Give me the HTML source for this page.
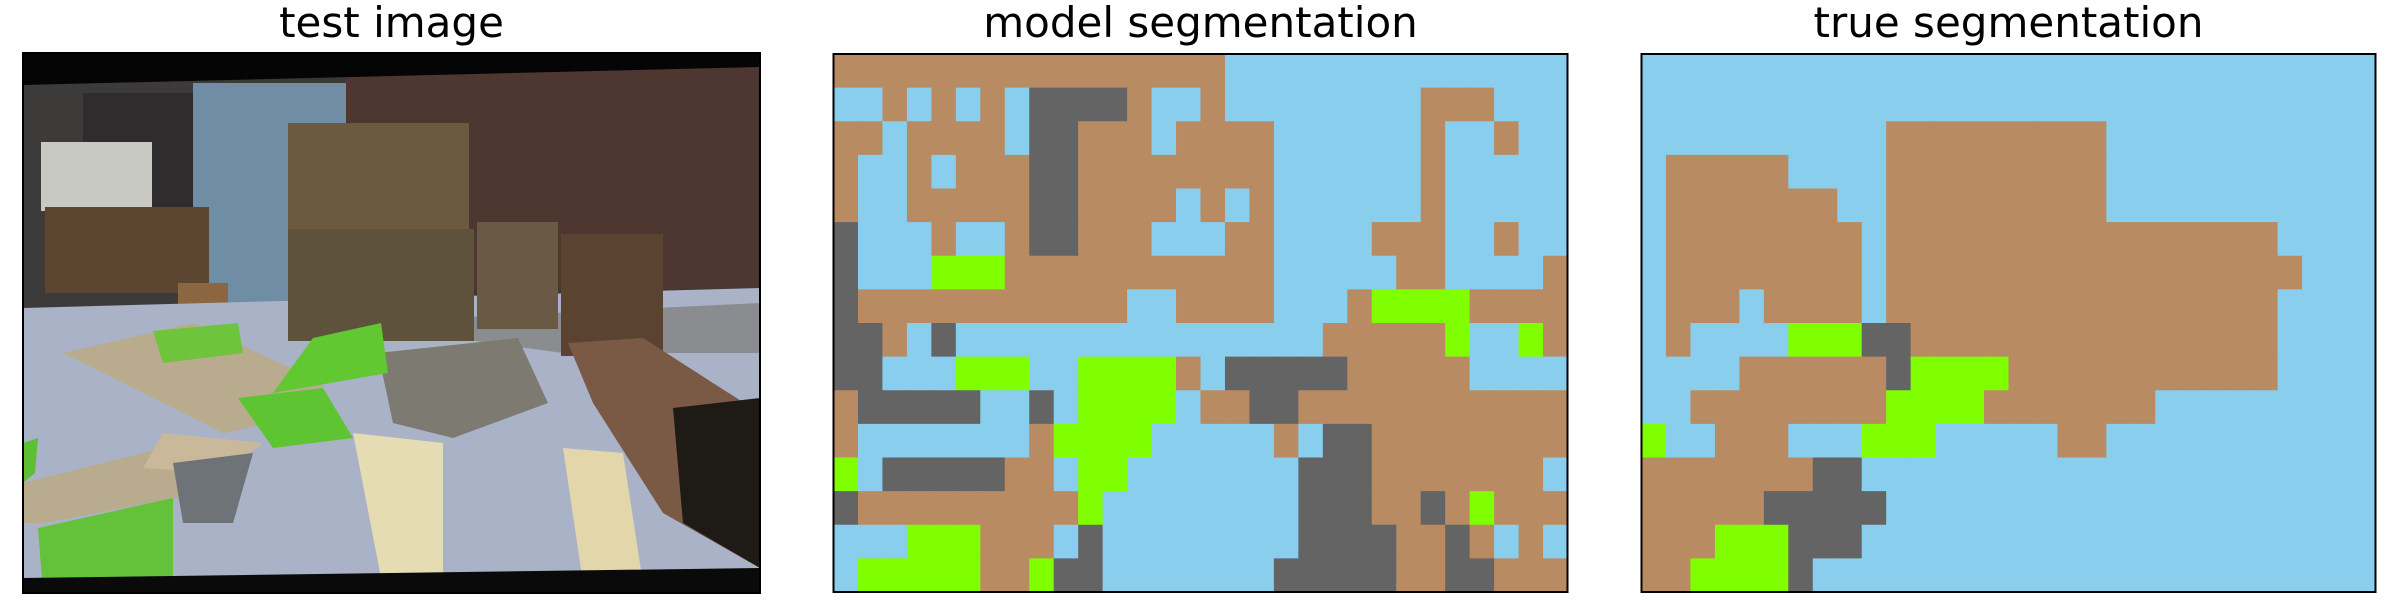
<!DOCTYPE html>
<html><head><meta charset="utf-8"><style>
html,body{margin:0;padding:0;background:#fff;width:2400px;height:600px;overflow:hidden}
svg{display:block}
text{font-family:"DejaVu Sans","Liberation Sans",sans-serif;font-size:42px;fill:#000}
</style></head><body>
<svg id="fig" width="2400" height="600" viewBox="0 0 2400 600" xmlns="http://www.w3.org/2000/svg">
<text x="391.5" y="37" text-anchor="middle">test image</text>
<text x="1200.5" y="37" text-anchor="middle">model segmentation</text>
<text x="2008.5" y="37" text-anchor="middle">true segmentation</text>

<g transform="translate(23,53)">
<rect width="737" height="540" fill="#3a3a34"/>
<polygon points="323,20 737,14 737,235 323,240" fill="#4e3631"/>
<polygon points="0,30 323,28 323,250 0,255" fill="#3d3a3a"/>
<polygon points="60,40 180,40 180,200 60,200" fill="#2e2c2c"/>
<rect x="170" y="30" width="153" height="245" fill="#6f8ea6"/>
<rect x="18" y="89" width="111" height="69" fill="#c8c9c2"/>
<rect x="22" y="154" width="164" height="86" fill="#5c4632"/>
<rect x="155" y="230" width="50" height="40" fill="#8c6640"/>
<polygon points="0,255 737,235 737,525 0,535" fill="#a9b2c6"/>
<polygon points="320,270 737,250 737,300 540,300" fill="#8a8c90"/>
<polygon points="40,300 170,270 300,330 300,360 200,380 100,330" fill="#b8ab8e"/>
<polygon points="0,430 160,390 180,440 20,470 0,470" fill="#b8ab8e"/>
<polygon points="330,380 420,390 420,530 360,535" fill="#e6dcb4"/>
<polygon points="540,395 600,400 620,530 560,530" fill="#e2d6aa"/>
<rect x="265" y="70" width="181" height="113" fill="#6b5a40"/>
<rect x="265" y="176" width="186" height="112" fill="#5e523d"/>
<rect x="454" y="169" width="81" height="107" fill="#6a5a45"/>
<rect x="538" y="181" width="102" height="122" fill="#5a4330"/>
<polygon points="355,300 495,285 525,350 430,385 370,370" fill="#7d7a72"/>
<polygon points="130,278 215,270 220,300 140,310" fill="#6ec43c"/>
<polygon points="290,285 358,270 365,320 250,340" fill="#62c832"/>
<polygon points="215,345 300,335 330,385 250,395" fill="#5fc431"/>
<polygon points="0,390 15,385 12,420 0,430" fill="#5ebf34"/>
<polygon points="15,475 150,445 150,540 20,540" fill="#63c23a"/>
<polygon points="140,380 240,390 200,420 120,415" fill="#c9b99a"/>
<polygon points="150,410 230,400 210,470 160,470" fill="#6e7377"/>
<polygon points="545,290 620,285 690,330 737,360 737,515 640,460 570,350" fill="#7a5a45"/>
<polygon points="650,355 737,345 737,515 660,470" fill="#1e1a16"/>
<polygon points="0,525 737,515 737,540 0,540" fill="#0a0a0a"/>
<polygon points="0,0 737,0 737,14 0,32" fill="#050505"/>
</g>

<g id="model"></g>
<g id="truth"></g>
<rect x="23" y="53" width="737" height="540" fill="none" stroke="#000" stroke-width="2"/>
<rect x="833.5" y="54" width="734" height="538" fill="none" stroke="#000" stroke-width="2"/>
<rect x="1641.5" y="54" width="734" height="538" fill="none" stroke="#000" stroke-width="2"/>
</svg>
<script>
// class codes: B=brown(crate), S=sky(floor/background), G=gray, L=lime(grass)
const modelRows = [
"BBBBBBBBBBBBBBBBSSSSSSSSSSSSSS",
"SSBSBSBSGGGGBSSBSSSSSSSSBBBSSS",
"BBSBBBBSGGBBBSBBBBSSSSSSBSSBSS",
"BSSBSBBBGGBBBBBBBBSSSSSSBSSSSS",
"BSSBBBBBGGBBBBSBSBSSSSSSBSSSSS",
"GSSSBSSBGGBBBSSSBBSSSSBBBSSBSS",
"GSSSLLLBBBBBBBBBBBSSSSSBBSSSSB",
"GBBBBBBBBBBBSSBBBBSSSBLLLLBBBB",
"GGBSGSSSSSSSSSSSSSSSBBBBBLSSLB",
"GGSSSLLLSSLLLLBSGGGGGBBBBBSSSS",
"BGGGGGSSGSLLLLSBBGGBBBBBBBBBBB",
"BSSSSSSSBLLLLSSSSSBSGGBBBBBBBB",
"LSGGGGGBBSLLSSSSSSSGGGBBBBBBBS",
"GBBBBBBBBBLSSSSSSSSGGGBBGBLBBB",
"SSSLLLBBBSGSSSSSSSSGGGGBBGBSBS",
"SLLLLLBBLGGSSSSSSSGGGGGBBGGBBB"
];
const trueRows = [
"SSSSSSSSSSSSSSSSSSSSSSSSSSSSSS",
"SSSSSSSSSSSSSSSSSSSSSSSSSSSSSS",
"SSSSSSSSSSBBBBBBBBBSSSSSSSSSSS",
"SBBBBBSSSSBBBBBBBBBSSSSSSSSSSS",
"SBBBBBBBSSBBBBBBBBBSSSSSSSSSSS",
"SBBBBBBBBSBBBBBBBBBBBBBBBBSSSS",
"SBBBBBBBBSBBBBBBBBBBBBBBBBBSSS",
"SBBBSBBBBSBBBBBBBBBBBBBBBBSSSS",
"SBSSSSLLLGGBBBBBBBBBBBBBBBSSSS",
"SSSSBBBBBBGLLLLBBBBBBBBBBBSSSS",
"SSBBBBBBBBLLLLBBBBBBBSSSSSSSSS",
"LSSBBBSSSLLLSSSSSBBSSSSSSSSSSS",
"BBBBBBBGGSSSSSSSSSSSSSSSSSSSSS",
"BBBBBGGGGGSSSSSSSSSSSSSSSSSSSS",
"BBBLLLGGGSSSSSSSSSSSSSSSSSSSSS",
"BBLLLLGSSSSSSSSSSSSSSSSSSSSSSS"
];
const classNames = {B:"crate", S:"floor", G:"gray-object", L:"grass"};
const palette = {B:"#b98b63", S:"#89ceed", G:"#646464", L:"#7fff00"};
const NS = "http://www.w3.org/2000/svg";
function draw(gid, rows, x0, y0, w, h, prefix){
  const g = document.getElementById(gid);
  const nr = rows.length, nc = rows[0].length;
  const cw = w / nc, ch = h / nr;
  const xs = c => x0 + c * cw, ys = r => y0 + r * ch;
  for (let r = 0; r < nr; r++) {
    for (let c = 0; c < nc; c++) {
      const k = rows[r][c];
      const rect = document.createElementNS(NS, "rect");
      rect.setAttribute("x", xs(c));
      rect.setAttribute("y", ys(r));
      rect.setAttribute("width", cw + 0.6);
      rect.setAttribute("height", ch + 0.6);
      rect.setAttribute("fill", palette[k]);
      
      
      g.appendChild(rect);
    }
  }
}
draw("model", modelRows, 833.5, 54, 734, 538, "model");
draw("truth", trueRows, 1641.5, 54, 734, 538, "true");
</script>
</body></html>
